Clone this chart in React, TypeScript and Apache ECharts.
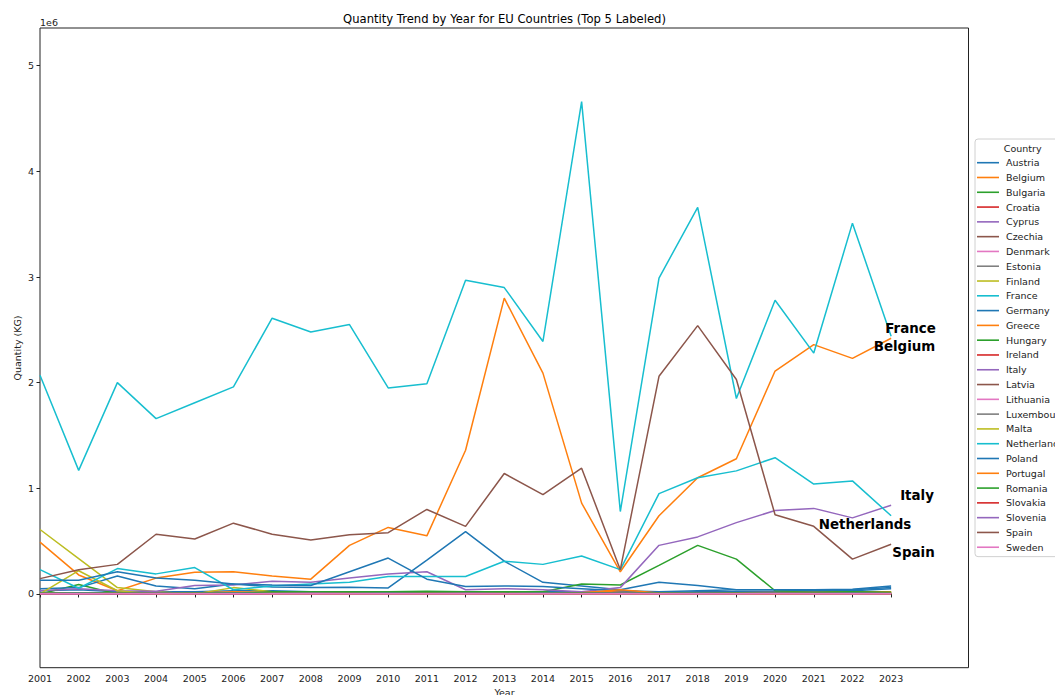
import React, { useEffect, useRef } from "react";
import * as echarts from "echarts";

// Years on the x axis
const years = [
  2001, 2002, 2003, 2004, 2005, 2006, 2007, 2008, 2009, 2010, 2011, 2012,
  2013, 2014, 2015, 2016, 2017, 2018, 2019, 2020, 2021, 2022, 2023,
];

// Quantity (KG) per country and year
const austria = [0.03e6, 0.04e6, 0.02e6, 0.02e6, 0.02e6, 0.03e6, 0.03e6, 0.02e6, 0.02e6, 0.01e6, 0.01e6, 0.01e6, 0.02e6, 0.02e6, 0.02e6, 0.01e6, 0.01e6, 0.02e6, 0.02e6, 0.02e6, 0.03e6, 0.03e6, 0.05e6];
const belgium = [0.49e6, 0.18e6, 0.03e6, 0.15e6, 0.205e6, 0.21e6, 0.17e6, 0.14e6, 0.46e6, 0.63e6, 0.55e6, 1.36e6, 2.8e6, 2.09e6, 0.86e6, 0.21e6, 0.74e6, 1.1e6, 1.28e6, 2.11e6, 2.36e6, 2.23e6, 2.42e6];
const bulgaria = [0.0, 0.09e6, 0.0, 0.0, 0.0, 0.01e6, 0.01e6, 0.01e6, 0.01e6, 0.01e6, 0.01e6, 0.01e6, 0.01e6, 0.01e6, 0.01e6, 0.01e6, 0.01e6, 0.01e6, 0.01e6, 0.01e6, 0.01e6, 0.01e6, 0.01e6];
const croatia = [0.002e6, 0.003e6, 0.002e6, 0.003e6, 0.004e6, 0.003e6, 0.004e6, 0.005e6, 0.004e6, 0.005e6, 0.006e6, 0.004e6, 0.005e6, 0.006e6, 0.007e6, 0.03e6, 0.008e6, 0.006e6, 0.007e6, 0.008e6, 0.009e6, 0.008e6, 0.01e6];
const cyprus = [0.004e6, 0.005e6, 0.004e6, 0.003e6, 0.004e6, 0.005e6, 0.004e6, 0.004e6, 0.005e6, 0.006e6, 0.005e6, 0.004e6, 0.005e6, 0.004e6, 0.005e6, 0.004e6, 0.005e6, 0.006e6, 0.005e6, 0.004e6, 0.005e6, 0.006e6, 0.005e6];
const czechia = [0.01e6, 0.012e6, 0.01e6, 0.008e6, 0.01e6, 0.012e6, 0.014e6, 0.012e6, 0.01e6, 0.011e6, 0.012e6, 0.01e6, 0.009e6, 0.01e6, 0.012e6, 0.01e6, 0.011e6, 0.013e6, 0.012e6, 0.01e6, 0.012e6, 0.013e6, 0.014e6];
const denmark = [0.005e6, 0.006e6, 0.004e6, 0.005e6, 0.006e6, 0.005e6, 0.004e6, 0.005e6, 0.006e6, 0.005e6, 0.004e6, 0.005e6, 0.006e6, 0.005e6, 0.004e6, 0.005e6, 0.006e6, 0.005e6, 0.004e6, 0.005e6, 0.006e6, 0.005e6, 0.004e6];
const estonia = [0.002e6, 0.002e6, 0.003e6, 0.002e6, 0.002e6, 0.003e6, 0.002e6, 0.002e6, 0.003e6, 0.002e6, 0.002e6, 0.003e6, 0.002e6, 0.002e6, 0.003e6, 0.002e6, 0.002e6, 0.003e6, 0.002e6, 0.002e6, 0.003e6, 0.002e6, 0.002e6];
const finland = [0.61e6, 0.335e6, 0.06e6, 0.02e6, 0.0, 0.06e6, 0.02e6, 0.01e6, 0.01e6, 0.01e6, 0.005e6, 0.005e6, 0.005e6, 0.005e6, 0.005e6, 0.005e6, 0.005e6, 0.005e6, 0.005e6, 0.005e6, 0.005e6, 0.005e6, 0.005e6];
const france = [2.07e6, 1.17e6, 2.0e6, 1.66e6, 1.81e6, 1.96e6, 2.61e6, 2.48e6, 2.55e6, 1.95e6, 1.99e6, 2.97e6, 2.9e6, 2.39e6, 4.66e6, 0.78e6, 2.99e6, 3.66e6, 1.85e6, 2.78e6, 2.28e6, 3.51e6, 2.44e6];
const germany = [0.05e6, 0.06e6, 0.17e6, 0.075e6, 0.05e6, 0.095e6, 0.065e6, 0.06e6, 0.063e6, 0.057e6, 0.32e6, 0.59e6, 0.31e6, 0.11e6, 0.075e6, 0.04e6, 0.11e6, 0.08e6, 0.04e6, 0.04e6, 0.04e6, 0.045e6, 0.075e6];
const greece = [0.01e6, 0.012e6, 0.01e6, 0.008e6, 0.01e6, 0.012e6, 0.01e6, 0.008e6, 0.01e6, 0.012e6, 0.01e6, 0.008e6, 0.01e6, 0.012e6, 0.01e6, 0.03e6, 0.012e6, 0.01e6, 0.012e6, 0.014e6, 0.015e6, 0.016e6, 0.018e6];
const hungary = [0.0, 0.0, 0.0, 0.0, 0.0, 0.01e6, 0.02e6, 0.02e6, 0.02e6, 0.02e6, 0.025e6, 0.02e6, 0.02e6, 0.02e6, 0.095e6, 0.085e6, 0.27e6, 0.46e6, 0.33e6, 0.03e6, 0.02e6, 0.02e6, 0.02e6];
const ireland = [0.005e6, 0.004e6, 0.005e6, 0.006e6, 0.005e6, 0.004e6, 0.005e6, 0.006e6, 0.005e6, 0.004e6, 0.005e6, 0.006e6, 0.005e6, 0.004e6, 0.005e6, 0.006e6, 0.005e6, 0.004e6, 0.005e6, 0.006e6, 0.005e6, 0.004e6, 0.005e6];
const italy = [0.03e6, 0.05e6, 0.03e6, 0.025e6, 0.08e6, 0.085e6, 0.12e6, 0.11e6, 0.15e6, 0.19e6, 0.21e6, 0.04e6, 0.05e6, 0.04e6, 0.02e6, 0.06e6, 0.46e6, 0.54e6, 0.675e6, 0.79e6, 0.81e6, 0.72e6, 0.84e6];
const latvia = [0.004e6, 0.005e6, 0.004e6, 0.005e6, 0.004e6, 0.005e6, 0.004e6, 0.005e6, 0.004e6, 0.005e6, 0.004e6, 0.005e6, 0.004e6, 0.005e6, 0.004e6, 0.005e6, 0.004e6, 0.005e6, 0.004e6, 0.005e6, 0.004e6, 0.005e6, 0.004e6];
const lithuania = [0.004e6, 0.004e6, 0.005e6, 0.004e6, 0.004e6, 0.005e6, 0.004e6, 0.004e6, 0.005e6, 0.004e6, 0.004e6, 0.005e6, 0.004e6, 0.004e6, 0.005e6, 0.004e6, 0.004e6, 0.005e6, 0.004e6, 0.004e6, 0.005e6, 0.004e6, 0.004e6];
const luxembourg = [0.001e6, 0.001e6, 0.001e6, 0.001e6, 0.001e6, 0.001e6, 0.001e6, 0.001e6, 0.001e6, 0.001e6, 0.001e6, 0.001e6, 0.001e6, 0.001e6, 0.001e6, 0.001e6, 0.001e6, 0.001e6, 0.001e6, 0.001e6, 0.001e6, 0.001e6, 0.001e6];
const malta = [0.0, 0.22e6, 0.03e6, 0.0, 0.0, 0.01e6, 0.0, 0.0, 0.0, 0.0, 0.0, 0.0, 0.0, 0.0, 0.0, 0.0, 0.0, 0.0, 0.0, 0.0, 0.0, 0.0, 0.0];
const netherlands = [0.23e6, 0.054e6, 0.24e6, 0.19e6, 0.25e6, 0.04e6, 0.075e6, 0.095e6, 0.11e6, 0.165e6, 0.165e6, 0.165e6, 0.31e6, 0.28e6, 0.36e6, 0.23e6, 0.95e6, 1.1e6, 1.165e6, 1.29e6, 1.04e6, 1.07e6, 0.74e6];
const poland = [0.13e6, 0.13e6, 0.21e6, 0.15e6, 0.13e6, 0.095e6, 0.085e6, 0.08e6, 0.21e6, 0.34e6, 0.14e6, 0.07e6, 0.075e6, 0.07e6, 0.05e6, 0.03e6, 0.02e6, 0.03e6, 0.04e6, 0.04e6, 0.03e6, 0.04e6, 0.06e6];
const portugal = [0.008e6, 0.01e6, 0.012e6, 0.01e6, 0.008e6, 0.02e6, 0.012e6, 0.01e6, 0.008e6, 0.01e6, 0.012e6, 0.01e6, 0.008e6, 0.01e6, 0.012e6, 0.04e6, 0.01e6, 0.008e6, 0.01e6, 0.012e6, 0.014e6, 0.012e6, 0.015e6];
const romania = [0.01e6, 0.012e6, 0.01e6, 0.008e6, 0.01e6, 0.012e6, 0.01e6, 0.008e6, 0.01e6, 0.012e6, 0.01e6, 0.008e6, 0.01e6, 0.012e6, 0.01e6, 0.008e6, 0.01e6, 0.012e6, 0.01e6, 0.008e6, 0.01e6, 0.012e6, 0.01e6];
const slovakia = [0.003e6, 0.003e6, 0.003e6, 0.003e6, 0.003e6, 0.003e6, 0.003e6, 0.003e6, 0.003e6, 0.003e6, 0.003e6, 0.003e6, 0.003e6, 0.003e6, 0.003e6, 0.003e6, 0.003e6, 0.003e6, 0.003e6, 0.003e6, 0.003e6, 0.003e6, 0.003e6];
const slovenia = [0.005e6, 0.006e6, 0.005e6, 0.006e6, 0.005e6, 0.006e6, 0.005e6, 0.006e6, 0.005e6, 0.006e6, 0.005e6, 0.006e6, 0.005e6, 0.006e6, 0.005e6, 0.006e6, 0.005e6, 0.006e6, 0.005e6, 0.006e6, 0.005e6, 0.006e6, 0.005e6];
const spain = [0.145e6, 0.23e6, 0.28e6, 0.565e6, 0.52e6, 0.67e6, 0.565e6, 0.51e6, 0.56e6, 0.58e6, 0.8e6, 0.64e6, 1.14e6, 0.94e6, 1.19e6, 0.23e6, 2.06e6, 2.54e6, 2.03e6, 0.75e6, 0.64e6, 0.33e6, 0.47e6];
const sweden = [0.002e6, 0.002e6, 0.002e6, 0.002e6, 0.002e6, 0.002e6, 0.002e6, 0.002e6, 0.002e6, 0.002e6, 0.002e6, 0.002e6, 0.002e6, 0.002e6, 0.002e6, 0.002e6, 0.002e6, 0.002e6, 0.002e6, 0.002e6, 0.002e6, 0.002e6, 0.002e6];

const countries = [
  "Austria", "Belgium", "Bulgaria", "Croatia", "Cyprus", "Czechia", "Denmark",
  "Estonia", "Finland", "France", "Germany", "Greece", "Hungary", "Ireland",
  "Italy", "Latvia", "Lithuania", "Luxembourg", "Malta", "Netherlands",
  "Poland", "Portugal", "Romania", "Slovakia", "Slovenia", "Spain", "Sweden",
];
const seriesValues = [
  austria, belgium, bulgaria, croatia, cyprus, czechia, denmark, estonia,
  finland, france, germany, greece, hungary, ireland, italy, latvia,
  lithuania, luxembourg, malta, netherlands, poland, portugal, romania,
  slovakia, slovenia, spain, sweden,
];

// Y tick values (shown in units of 1e6)
const yTicks = [0, 1e6, 2e6, 3e6, 4e6, 5e6];

// Labelled top countries and where their name sits
const topLabels = [
  { name: "France", x: 910.5, y: 328 },
  { name: "Belgium", x: 904.5, y: 346 },
  { name: "Italy", x: 917, y: 495 },
  { name: "Netherlands", x: 865, y: 524 },
  { name: "Spain", x: 913.5, y: 552 },
];

const palette = [
  "#1f77b4", "#ff7f0e", "#2ca02c", "#d62728", "#9467bd",
  "#8c564b", "#e377c2", "#7f7f7f", "#bcbd22", "#17becf",
];

const FONT = "DejaVu Sans";

export default function App() {
  const ref = useRef<HTMLDivElement>(null);

  useEffect(() => {
    if (!ref.current) return;
    const chart = echarts.init(ref.current, null, { renderer: "svg" });

    const series = countries.map((name, i) => ({
      name,
      type: "line",
      data: years.map((y, j) => [y, seriesValues[i][j]]),
      showSymbol: false,
      symbol: "none",
      lineStyle: { width: 1.5, color: palette[i % 10] },
      itemStyle: { color: palette[i % 10] },
      emphasis: { disabled: true },
    }));

    chart.setOption({
      animation: false,
      backgroundColor: "#ffffff",
      grid: {
        left: 40,
        right: 86.5,
        top: 28,
        bottom: 27.3,
        show: true,
        borderColor: "#222",
        borderWidth: 1,
        backgroundColor: "transparent",
      },
      xAxis: {
        type: "value",
        min: 2001,
        max: 2025,
        axisLine: { show: false },
        splitLine: { show: false },
        axisTick: {
          show: true,
          inside: false,
          length: 3.5,
          customValues: years,
          lineStyle: { color: "#222" },
        },
        axisLabel: {
          customValues: years,
          formatter: (v: number) => String(v),
          fontFamily: FONT,
          fontSize: 9.5,
          color: "#222",
          margin: 6,
        },
      },
      yAxis: {
        type: "value",
        min: -0.698e6,
        max: 5.357e6,
        axisLine: { show: false },
        splitLine: { show: false },
        axisTick: {
          show: true,
          inside: false,
          length: 3.5,
          customValues: yTicks,
          lineStyle: { color: "#222" },
        },
        axisLabel: {
          customValues: yTicks,
          formatter: (v: number) => String(Math.round(v / 1e6)),
          fontFamily: FONT,
          fontSize: 9.5,
          color: "#222",
          margin: 6,
        },
      },
      legend: {
        orient: "vertical",
        left: 975,
        top: 139,
        data: countries,
        selectedMode: false,
        icon: "rect",
        itemWidth: 22,
        itemHeight: 1.6,
        itemGap: 2.79,
        padding: [17.7, 4, 3.4, 2],
        borderColor: "#d0d0d0",
        borderWidth: 1,
        borderRadius: 3,
        backgroundColor: "rgba(255,255,255,0.8)",
        textStyle: {
          fontFamily: FONT,
          fontSize: 9.5,
          color: "#222",
          lineHeight: 12,
          padding: [0, 0, 0, 2],
        },
      },
      graphic: [
        {
          type: "text",
          x: 504.5,
          y: 19,
          style: {
            text: "Quantity Trend by Year for EU Countries (Top 5 Labeled)",
            fontFamily: FONT,
            fontSize: 11.6,
            fill: "#000",
            align: "center",
            verticalAlign: "middle",
          },
        },
        {
          type: "text",
          x: 40,
          y: 22,
          style: {
            text: "1e6",
            fontFamily: FONT,
            fontSize: 9.5,
            fill: "#222",
            align: "left",
            verticalAlign: "middle",
          },
        },
        {
          type: "text",
          x: 17,
          y: 348,
          rotation: Math.PI / 2,
          style: {
            text: "Quantity (KG)",
            fontFamily: FONT,
            fontSize: 9.5,
            fill: "#222",
            align: "center",
            verticalAlign: "middle",
          },
        },
        {
          type: "text",
          x: 504.5,
          y: 692,
          style: {
            text: "Year",
            fontFamily: FONT,
            fontSize: 9.5,
            fill: "#222",
            align: "center",
            verticalAlign: "middle",
          },
        },
        {
          type: "text",
          x: 1022.7,
          y: 148.3,
          z: 100,
          style: {
            text: "Country",
            fontFamily: FONT,
            fontSize: 9.5,
            fill: "#222",
            align: "center",
            verticalAlign: "middle",
          },
        },
        ...topLabels.map((l) => ({
          type: "text",
          x: l.x,
          y: l.y,
          z: 100,
          style: {
            text: l.name,
            fontFamily: FONT,
            fontSize: 13.4,
            fontWeight: "bold",
            fill: "#000",
            align: "center",
            verticalAlign: "middle",
          },
        })),
      ],
      series,
    });

    return () => chart.dispose();
  }, []);

  return (
    <div
      ref={ref}
      style={{ position: "fixed", left: 0, top: 0, width: 1055, height: 695 }}
    />
  );
}
